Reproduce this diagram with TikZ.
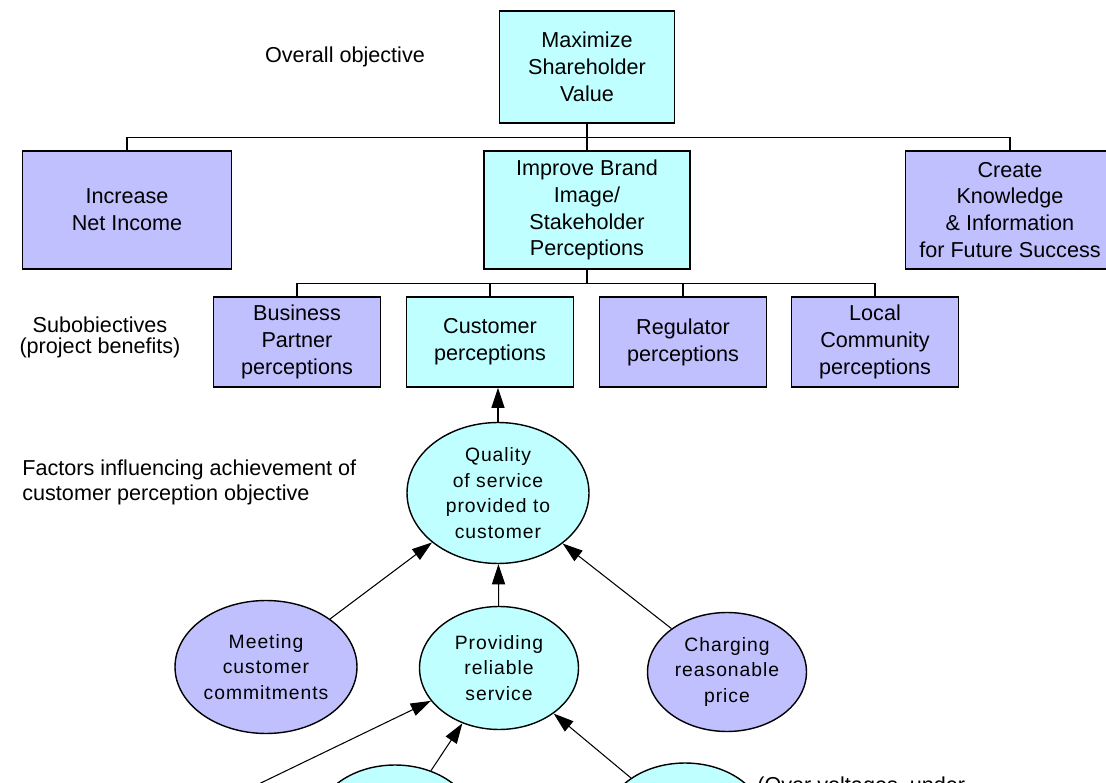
\documentclass[tikz,border=0pt]{standalone}
\usepackage{fontspec}
\setmainfont{Liberation Sans}
\newfontfamily\ovalfont[LetterSpace=5]{Liberation Sans}
\usetikzlibrary{shapes.geometric,arrows.meta}
\definecolor{lilac}{RGB}{192,192,255}
\definecolor{aqua}{RGB}{192,255,255}

\begin{document}
\begin{tikzpicture}[x=0.02cm,y=-0.02cm,
  goal/.style={draw,line width=0.9pt,align=center,inner sep=2pt,font=\fontsize{12.3}{15.3}\selectfont},
  sub/.style={goal,minimum width=3.34cm,minimum height=1.8cm},
  oval/.style={draw,ellipse,line width=0.8pt,align=center,inner sep=0pt,font=\ovalfont\fontsize{11}{14.5}\selectfont},
  note/.style={align=center,inner sep=0pt,font=\fontsize{12.3}{15}\selectfont},
  link/.style={line width=0.7pt},
  push/.style={line width=0.6pt,-{Triangle[length=11.5pt,width=7.5pt]}}]
  \def\Xmid{587};
  \def\Xinc{127};
  \def\Xcre{1010};
  \def\Ytop{67};
  \def\Ytwo{210};
  \def\Ysub{342};
  \useasboundingbox (0,0) rectangle (1106,783);
  \clip (0,0) rectangle (1106,783);

	% boxes
	\node[goal,fill=aqua,minimum width=3.5cm,minimum height=2.24cm] (max) at (\Xmid,\Ytop) {Maximize\\Shareholder\\Value};
	\node[goal,fill=lilac,minimum width=4.18cm,minimum height=2.36cm] (inc) at (\Xinc,\Ytwo) {Increase\\Net Income};
	\node[goal,fill=aqua,minimum width=4.12cm,minimum height=2.36cm] (impr) at (\Xmid,\Ytwo) {Improve Brand\\Image/\\Stakeholder\\Perceptions};
	\node[goal,fill=lilac,minimum width=4.18cm,minimum height=2.36cm] (crea) at (\Xcre,\Ytwo) {Create\\Knowledge\\\& Information\\for Future Success};
	\node[sub,fill=lilac] (bus) at (297,\Ysub) {Business\\Partner\\perceptions};
	\node[sub,fill=aqua] (cust) at (490,\Ysub) {Customer\\perceptions};
	\node[sub,fill=lilac] (reg) at (683,\Ysub) {Regulator\\perceptions};
	\node[sub,fill=lilac] (loc) at (875,\Ysub) {Local\\Community\\perceptions};

	% tree lines
	\draw[link] (max.south) -- (impr.north);
	\draw[link] (max.south) -- ++(0,14) -| (inc.north);
	\draw[link] (max.south) -- ++(0,14) -| (crea.north);
	\draw[link] (impr.south) -- ++(0,14) -| (bus.north);
	\draw[link] (impr.south) -- ++(0,14) -| (cust.north);
	\draw[link] (impr.south) -- ++(0,14) -| (reg.north);
	\draw[link] (impr.south) -- ++(0,14) -| (loc.north);

	% ovals
	\node[oval,fill=aqua,minimum width=3.64cm,minimum height=2.82cm] (qual) at (498,493) {Quality\\of service\\provided to\\customer};
	\node[oval,fill=lilac,minimum width=3.64cm,minimum height=2.66cm] (meet) at (266,667) {Meeting\\customer\\commitments};
	\node[oval,fill=aqua,minimum width=3.18cm,minimum height=2.46cm] (prov) at (499,668) {Providing\\reliable\\service};
	\node[oval,fill=lilac,minimum width=3.18cm,minimum height=2.38cm] (charg) at (727,672) {Charging\\reasonable\\price};
	\node[oval,fill=aqua,minimum width=3.2cm,minimum height=2.4cm] (lowa) at (395,825) {};
	\node[oval,fill=aqua,minimum width=3.2cm,minimum height=2.4cm] (lowb) at (685,823) {};
	\coordinate (offleft) at (180,822);

	% arrows
	\draw[push] (qual.north) -- (qual.north |- cust.south);
	\draw[push] (meet) -- (qual);
	\draw[push] (prov) -- (qual);
	\draw[push] (charg) -- (qual);
	\draw[push] (offleft) -- (prov);
	\draw[push] (lowa) -- (prov);
	\draw[push] (lowb) -- (prov);

	% labels
	\node[note] (overall) at (345,57) {Overall objective};
	\node[note,font=\fontsize{12.3}{12}\selectfont] (subobj) at (100,337) {Subobiectives\\(project benefits)};
	\node[note,align=left,anchor=west,font=\fontsize{12.3}{14.2}\selectfont] (factors) at (22,482) {Factors influencing achievement of\\customer perception objective};
	\node[note,anchor=base west] (overv) at (757,792) {(Over voltages, under};

\end{tikzpicture}
\end{document}
